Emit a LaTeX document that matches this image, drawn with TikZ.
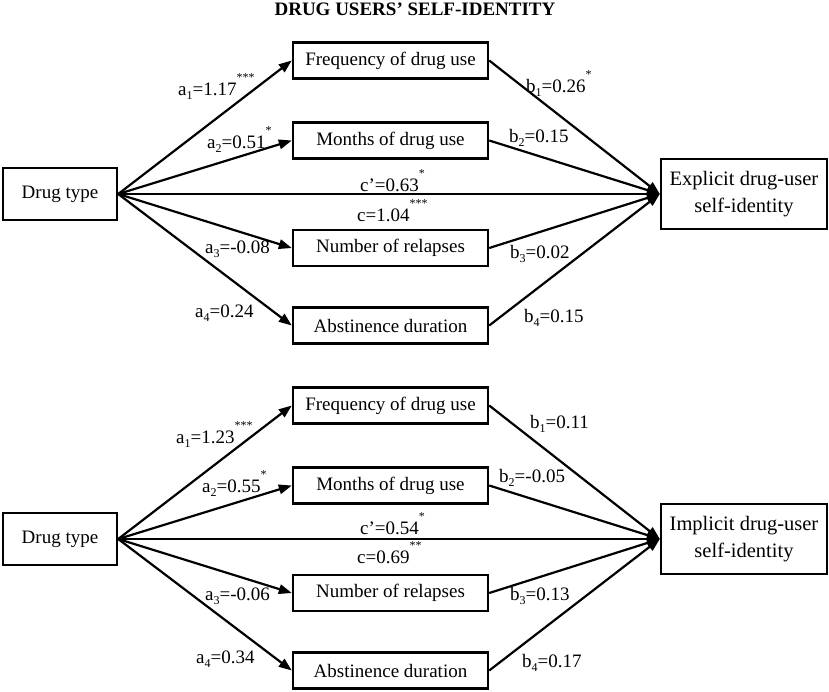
\documentclass[tikz,border=0pt]{standalone}
\usepackage{fontspec}
\setmainfont{Liberation Serif}
\usetikzlibrary{arrows.meta}
\tikzset{
  box/.style={draw=black, line width=2.4pt, font=\fontsize{19}{27}\selectfont, align=center, inner sep=0pt},
  mbox/.style={box, minimum width=195pt, minimum height=36pt},
  obox/.style={box, minimum width=166pt, minimum height=70pt, font=\fontsize{20.5}{27}\selectfont},
  link/.style={draw=black, line width=2.2pt, -{Triangle[length=13pt,width=9.5pt]}},
  lab/.style={anchor=base west, inner sep=0pt, font=\fontsize{19}{19}\selectfont},
}
\newcommand{\labsub}[1]{\raisebox{-4pt}{\fontsize{12}{12}\selectfont #1}}
\newcommand{\labsig}[1]{\raisebox{14pt}{\fontsize{12}{12}\selectfont #1}}
\begin{document}
\begin{tikzpicture}[x=1pt,y=-1pt]
  \useasboundingbox (0,0) rectangle (829,691);
  \node[anchor=base, font=\bfseries\fontsize{19}{19}\selectfont] (title) at (415,15) {DRUG USERS’ SELF-IDENTITY};
  % explicit model
  \node[box, minimum width=114pt, minimum height=52pt] (dt1) at (60,194) {Drug type};
  \node[mbox] (fr1) at (390.5,60.5) {Frequency of drug use};
  \node[mbox] (mo1) at (390.5,140.5) {Months of drug use};
  \node[mbox] (nr1) at (390.5,248) {Number of relapses};
  \node[mbox] (ab1) at (390.5,325.5) {Abstinence duration};
  \node[obox] (ex1) at (744,194) {Explicit drug-user\\self-identity};
  \draw[link] (dt1.east) -- (fr1.west);
  \draw[link] (dt1.east) -- (mo1.west);
  \draw[link] (dt1.east) -- (nr1.west);
  \draw[link] (dt1.east) -- (ab1.west);
  \draw[link] (dt1.east) -- (ex1.west);
  \draw[link] (fr1.east) -- (ex1.west);
  \draw[link] (mo1.east) -- (ex1.west);
  \draw[link] (nr1.east) -- (ex1.west);
  \draw[link] (ab1.east) -- (ex1.west);
  \node[lab] (a1e) at (178,95) {a\labsub{1}=1.17\labsig{***}};
  \node[lab] (a2e) at (207,148) {a\labsub{2}=0.51\labsig{*}};
  \node[lab] (a3e) at (205,253) {a\labsub{3}=-0.08};
  \node[lab] (a4e) at (195,317) {a\labsub{4}=0.24};
  \node[lab] (b1e) at (526,92) {b\labsub{1}=0.26\labsig{*}};
  \node[lab] (b2e) at (509,142) {b\labsub{2}=0.15};
  \node[lab] (b3e) at (510,258) {b\labsub{3}=0.02};
  \node[lab] (b4e) at (524,322) {b\labsub{4}=0.15};
  \node[lab] (cpe) at (360,191) {c’=0.63\labsig{*}};
  \node[lab] (ce) at (357,221) {c=1.04\labsig{***}};
  % implicit model
  \begin{scope}[shift={(0,345)}]
    \node[box, minimum width=114pt, minimum height=52pt] (dt2) at (60,194) {Drug type};
    \node[mbox] (fr2) at (390.5,60.5) {Frequency of drug use};
    \node[mbox] (mo2) at (390.5,140.5) {Months of drug use};
    \node[mbox] (nr2) at (390.5,248) {Number of relapses};
    \node[mbox] (ab2) at (390.5,325.5) {Abstinence duration};
    \node[obox] (im2) at (744,194) {Implicit drug-user\\self-identity};
    \draw[link] (dt2.east) -- (fr2.west);
    \draw[link] (dt2.east) -- (mo2.west);
    \draw[link] (dt2.east) -- (nr2.west);
    \draw[link] (dt2.east) -- (ab2.west);
    \draw[link] (dt2.east) -- (im2.west);
    \draw[link] (fr2.east) -- (im2.west);
    \draw[link] (mo2.east) -- (im2.west);
    \draw[link] (nr2.east) -- (im2.west);
    \draw[link] (ab2.east) -- (im2.west);
    \node[lab] (a1i) at (176,98) {a\labsub{1}=1.23\labsig{***}};
    \node[lab] (a2i) at (202,147) {a\labsub{2}=0.55\labsig{*}};
    \node[lab] (a3i) at (205,255) {a\labsub{3}=-0.06};
    \node[lab] (a4i) at (196,318) {a\labsub{4}=0.34};
    \node[lab] (b1i) at (530,83) {b\labsub{1}=0.11};
    \node[lab] (b2i) at (499,137) {b\labsub{2}=-0.05};
    \node[lab] (b3i) at (510,255) {b\labsub{3}=0.13};
    \node[lab] (b4i) at (522,322) {b\labsub{4}=0.17};
    \node[lab] (cpi) at (360,189) {c’=0.54\labsig{*}};
    \node[lab] (ci) at (357,218) {c=0.69\labsig{**}};
  \end{scope}
\end{tikzpicture}
\end{document}
